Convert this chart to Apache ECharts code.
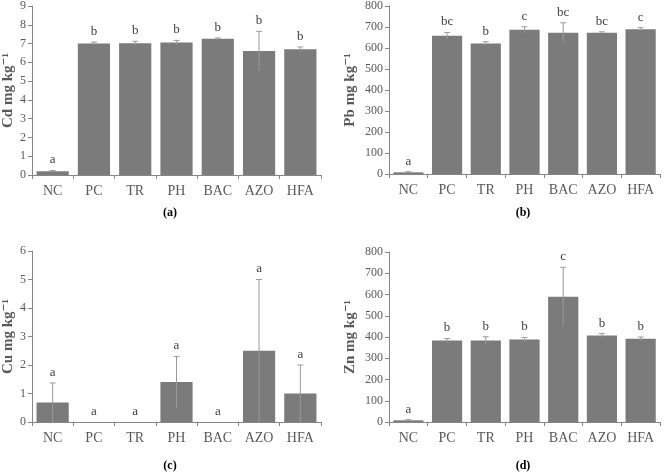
<!DOCTYPE html>
<html>
<head>
<meta charset="utf-8">
<script src="https://cdn.jsdelivr.net/npm/echarts@6/dist/echarts.min.js"></script>
<style>
  html, body { margin: 0; padding: 0; background: #fff; }
  #chart { width: 667px; height: 475px; }
</style>
</head>
<body>
<div id="chart"></div>
<script>
// treatments on the x axis
const categories = ['NC', 'PC', 'TR', 'PH', 'BAC', 'AZO', 'HFA'];

// (a) Cd
const cdMean = [0.2, 7.0, 7.02, 7.05, 7.25, 6.6, 6.7];
const cdErr = [0.04, 0.08, 0.1, 0.12, 0.05, 1.05, 0.12];
const cdLetters = ['a', 'b', 'b', 'b', 'b', 'b', 'b'];

// (b) Pb
const pbMean = [8, 658, 622, 687, 673, 673, 689];
const pbErr = [3, 16, 8, 14, 47, 4, 8];
const pbLetters = ['a', 'bc', 'b', 'c', 'bc', 'bc', 'c'];

// (c) Cu
const cuMean = [0.68, 0, 0, 1.4, 0, 2.5, 1.0];
const cuErr = [0.69, 0, 0, 0.9, 0, 2.5, 1.0];
const cuLetters = ['a', 'a', 'a', 'a', 'a', 'a', 'a'];

// (d) Zn
const znMean = [8, 383, 383, 388, 590, 407, 392];
const znErr = [3, 10, 18, 10, 138, 9, 8];
const znLetters = ['a', 'b', 'b', 'b', 'c', 'b', 'b'];

const FONT = '"Liberation Serif", "DejaVu Serif", serif';
const AXIS_GREY = '#868686';
const TEXT_GREY = '#595959';
const BAR_GREY = '#7b7b7b';

const panels = [
  { mean: cdMean, err: cdErr, letters: cdLetters, max: 9, interval: 1, name: 'Cd mg kg⁻¹', gap: 16,
    grid: { left: 32, top: 5, width: 289, height: 170 } },
  { mean: pbMean, err: pbErr, letters: pbLetters, max: 800, interval: 100, name: 'Pb mg kg⁻¹', gap: 31,
    grid: { left: 389, top: 5, width: 271, height: 169 } },
  { mean: cuMean, err: cuErr, letters: cuLetters, max: 6, interval: 1, name: 'Cu mg kg⁻¹', gap: 16,
    grid: { left: 32, top: 251, width: 289, height: 171 } },
  { mean: znMean, err: znErr, letters: znLetters, max: 800, interval: 100, name: 'Zn mg kg⁻¹', gap: 31,
    grid: { left: 389, top: 252, width: 271, height: 170 } }
];

// error bar + significance letter
const makeErrorRender = (letters) => (params, api) => {
  const idx = api.value(0);
  const hi = api.value(1) + api.value(2);
  const lo = Math.max(0, api.value(1) - api.value(2));
  const top = api.coord([idx, hi]);
  const bot = api.coord([idx, lo]);
  const children = [];
  if (api.value(2) > 0) {
    children.push({
      type: 'line',
      shape: { x1: top[0], y1: top[1], x2: bot[0], y2: bot[1] },
      style: { stroke: '#9a9a9a', lineWidth: 1 }
    });
    children.push({
      type: 'line',
      shape: { x1: top[0] - 3, y1: top[1], x2: top[0] + 3, y2: top[1] },
      style: { stroke: '#9a9a9a', lineWidth: 1 }
    });
  }
  children.push({
    type: 'text',
    style: {
      text: letters[params.dataIndex],
      x: top[0],
      y: top[1] - 4,
      align: 'center',
      verticalAlign: 'bottom',
      fill: '#404040',
      font: '13px ' + FONT
    }
  });
  return { type: 'group', children: children };
};

const option = {
  animation: false,
  backgroundColor: '#fff',
  grid: panels.map(p => Object.assign({ containLabel: false }, p.grid)),
  xAxis: panels.map((p, i) => ({
    type: 'category',
    gridIndex: i,
    data: categories,
    axisLine: { lineStyle: { color: AXIS_GREY } },
    axisTick: { show: true, length: 4, lineStyle: { color: AXIS_GREY } },
    axisLabel: { color: TEXT_GREY, fontFamily: FONT, fontSize: 14, margin: 9 }
  })),
  yAxis: panels.map((p, i) => ({
    type: 'value',
    gridIndex: i,
    min: 0,
    max: p.max,
    interval: p.interval,
    name: p.name,
    nameLocation: 'middle',
    nameGap: p.gap,
    nameTextStyle: { color: TEXT_GREY, fontFamily: FONT, fontSize: 15, fontWeight: 'bold' },
    splitLine: { show: false },
    axisLine: { show: true, lineStyle: { color: AXIS_GREY } },
    axisTick: { show: true, length: 4, lineStyle: { color: AXIS_GREY } },
    axisLabel: { color: TEXT_GREY, fontFamily: FONT, fontSize: 12, margin: 6 }
  })),
  series: panels.flatMap((p, i) => [
    {
      type: 'bar',
      xAxisIndex: i,
      yAxisIndex: i,
      data: p.mean,
      barCategoryGap: '22%',
      itemStyle: { color: BAR_GREY }
    },
    {
      type: 'custom',
      xAxisIndex: i,
      yAxisIndex: i,
      data: p.mean.map((m, k) => [k, m, p.err[k]]),
      renderItem: makeErrorRender(p.letters),
      z: 5
    }
  ]),
  graphic: [
    ['(a)', 170, 213], ['(b)', 523, 213], ['(c)', 170, 466], ['(d)', 523, 466]
  ].map(([t, x, y]) => ({
    type: 'text',
    x: x,
    y: y,
    style: { text: t, align: 'center', verticalAlign: 'middle', fill: '#000', font: 'bold 12px ' + FONT }
  }))
};

const chart = echarts.init(document.getElementById('chart'));
chart.setOption(option);
</script>
</body>
</html>
